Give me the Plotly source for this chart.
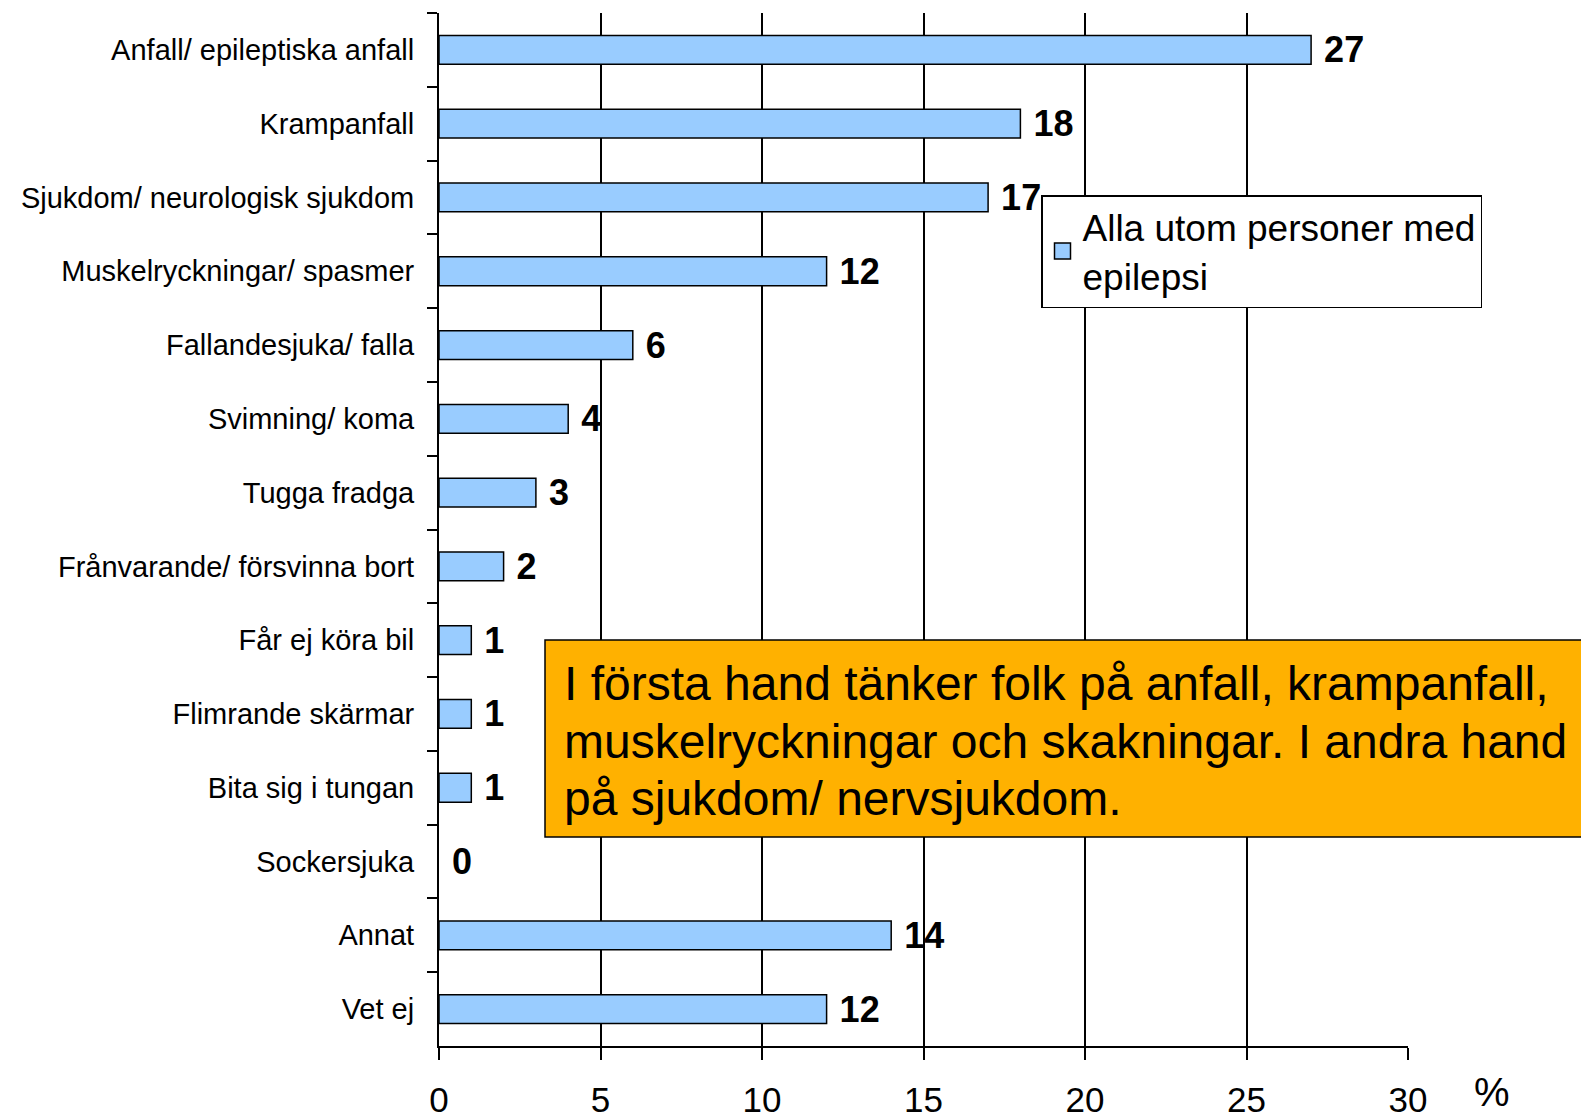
import plotly.graph_objects as go

categories = [
    "Anfall/ epileptiska anfall",
    "Krampanfall",
    "Sjukdom/ neurologisk sjukdom",
    "Muskelryckningar/ spasmer",
    "Fallandesjuka/ falla",
    "Svimning/ koma",
    "Tugga fradga",
    "Frånvarande/ försvinna bort",
    "Får ej köra bil",
    "Flimrande skärmar",
    "Bita sig i tungan",
    "Sockersjuka",
    "Annat",
    "Vet ej",
]
values = [27, 18, 17, 12, 6, 4, 3, 2, 1, 1, 1, 0, 14, 12]
series_name = "Alla utom personer med<br>epilepsi"
x_ticks = [0, 5, 10, 15, 20, 25, 30]
note_lines = [
    "I första hand tänker folk på anfall, krampanfall,",
    "muskelryckningar och skakningar. I andra hand",
    "på sjukdom/ nervsjukdom.",
]

W, H = 1589, 1118
OFF = 8  # page body margin
# plot area in screen pixels
SL, SR, ST, SB = 439, 1408, 13, 1046
L, R, T, B = SL - OFF, SR - OFF, ST - OFF, SB - OFF
pw, ph = R - L, B - T

def px(x):
    return (x - OFF - L) / pw

def py(y):
    return (B - (y - OFF)) / ph

FONT = "Liberation Sans, Arial, sans-serif"
BAR_COLOR = "#99CCFF"

# no outline for zero-length bars (nothing is drawn there in the reference)
outline_widths = [1.5 if v > 0 else 0 for v in values]

fig = go.Figure()
fig.add_trace(go.Bar(
    y=categories,
    x=values,
    orientation="h",
    name=series_name,
    showlegend=False,
    marker=dict(color=BAR_COLOR, line=dict(color="black", width=outline_widths)),
    text=[" " + str(v) for v in values],
    textposition="outside",
    constraintext="none",
    textfont=dict(family=FONT, size=36, color="black", weight="bold"),
    cliponaxis=False,
))
# legend entry with a larger square swatch
fig.add_trace(go.Scatter(
    x=[None], y=[None], mode="markers", name=series_name,
    marker=dict(symbol="square", size=16, color=BAR_COLOR,
                line=dict(color="black", width=1.5)),
    showlegend=True,
))

fig.update_layout(
    width=W, height=H,
    margin=dict(l=L, r=W - R, t=T, b=H - B, pad=0, autoexpand=False),
    paper_bgcolor="white",
    plot_bgcolor="white",
    bargap=0.61,
    font=dict(family=FONT, color="black"),
    showlegend=True,
    legend=dict(
        x=px(1041), y=py(195), xanchor="left", yanchor="top",
        bgcolor="white", bordercolor="black", borderwidth=1.5,
        font=dict(family=FONT, size=37, color="black"),
        itemsizing="trace",
        tracegroupgap=0,
    ),
    xaxis=dict(
        range=[0, 30], tickvals=x_ticks,
        ticks="outside", ticklen=12, tickwidth=1.5, tickcolor="black",
        showgrid=True, gridcolor="black", gridwidth=1.5,
        showline=True, linecolor="black", linewidth=2,
        zeroline=False, automargin=False,
        tickfont=dict(family=FONT, size=35, color="black"),
        ticklabelstandoff=10,
    ),
    yaxis=dict(
        autorange="reversed",
        ticks="outside", ticklen=10, tickwidth=1.5, tickcolor="black",
        tickson="boundaries",
        showgrid=False, automargin=False,
        showline=True, linecolor="black", linewidth=2,
        tickfont=dict(family=FONT, size=29, color="black"),
        ticklabelstandoff=17,
    ),
)

# Orange commentary box
fig.add_shape(
    type="rect", xref="paper", yref="paper",
    x0=px(545), x1=px(1620), y0=py(837), y1=py(640),
    fillcolor="#FFB100", line=dict(color="black", width=1.5),
    layer="above",
)
for line_text, yc in zip(note_lines, [683, 741, 798]):
    fig.add_annotation(
        xref="paper", yref="paper", x=px(562), y=py(yc),
        xanchor="left", yanchor="middle", align="left",
        text=line_text, showarrow=False,
        font=dict(family=FONT, size=48, color="black"),
    )
# % unit label
fig.add_annotation(
    xref="paper", yref="paper", x=px(1492), y=py(1092),
    xanchor="center", yanchor="middle",
    text="%", showarrow=False,
    font=dict(family=FONT, size=40, color="black"),
)

fig.write_html("out.html")
